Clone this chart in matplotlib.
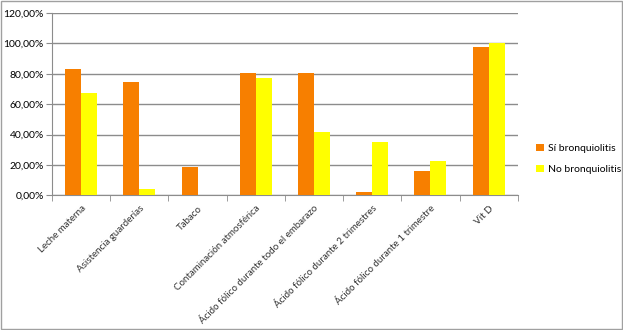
import numpy as np
import matplotlib
matplotlib.use("Agg")
import matplotlib.pyplot as plt
from matplotlib.ticker import FuncFormatter

categorias = ["Leche materna", "Asistencia guarderías", "Tabaco",
              "Contaminación atmosférica", "Ácido fólico durante todo el embarazo",
              "Ácido fólico durante 2 trimestres", "Ácido fólico durante 1 trimestre",
              "Vit D"]
si_bronq = [83.2, 74.7, 19.0, 80.6, 80.6, 2.3, 16.1, 97.7]
no_bronq = [67.4, 4.3, 0.0, 77.3, 41.8, 35.2, 22.7, 100.0]

plt.rcParams['font.family'] = ['Lato', 'DejaVu Sans']

fig = plt.figure(figsize=(6.23, 3.3), dpi=100)
ax = fig.add_axes([0.0835, 0.4076, 0.7475, 0.553])

x = np.arange(len(categorias))
w = 0.275
ax.bar(x - w / 2, si_bronq, w, color="#F77F00", label="Sí bronquiolitis", zorder=3)
ax.bar(x + w / 2, no_bronq, w, color="#FFFF00", label="No bronquiolitis", zorder=3)

ax.set_xlim(-0.5, len(categorias) - 0.5)
ax.set_ylim(0, 120)
ax.set_yticks(np.arange(0, 121, 20))
ax.yaxis.set_major_formatter(FuncFormatter(lambda v, p: f"{v:.2f}%".replace(".", ",")))
ax.grid(axis="y", color="#8c8c8c", linewidth=1, zorder=0)

ax.set_xticks(x)
ax.set_xticklabels(categorias, rotation=45, ha="right", rotation_mode="anchor",
                   fontsize=7, color="#333333")
ax.tick_params(axis="x", length=0, pad=6)
ax.set_xticks(np.arange(-0.5, len(categorias)), minor=True)
ax.tick_params(axis="x", which="minor", length=4, color="#8c8c8c")
ax.tick_params(axis="y", labelsize=7.5, length=4, pad=2, color="#8c8c8c")

for s in ["top", "right"]:
    ax.spines[s].set_visible(False)
ax.spines["left"].set_color("#8c8c8c")
ax.spines["bottom"].set_color("#8c8c8c")

ax.legend(loc="center left", bbox_to_anchor=(1.02, 0.2), frameon=False,
          fontsize=7.5, handlelength=0.7, handleheight=0.7, labelspacing=1.1,
          handletextpad=0.4)

fig.patches.append(plt.Rectangle((0.001, 0.002), 0.997, 0.995, transform=fig.transFigure,
                                 fill=False, edgecolor="#a0a0a0", linewidth=1))

fig.savefig("out.png", dpi=100)
